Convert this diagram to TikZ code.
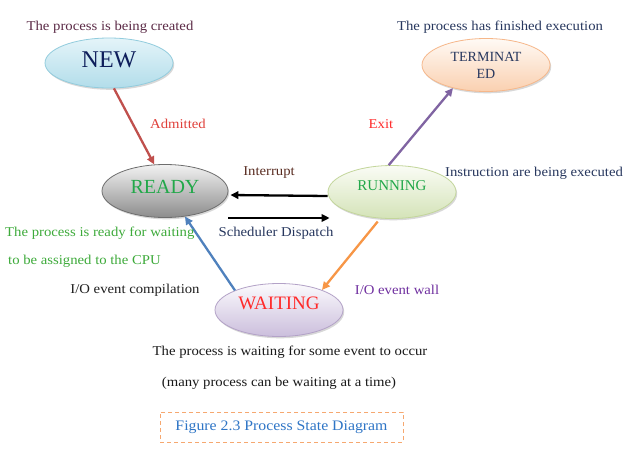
\documentclass[tikz,border=0pt]{standalone}
\usepackage{fontspec}
\setmainfont{Liberation Serif}
\newfontfamily\lblfont[FakeStretch=1.09]{Liberation Serif}
\usetikzlibrary{shapes.geometric,arrows.meta,shadows}
\newcommand\upby[2]{\raisebox{#1}[\height][\depth]{#2}}
\definecolor{newBd}{HTML}{92CCDD}
\definecolor{newTop}{HTML}{E4F4F9}
\definecolor{newBot}{HTML}{B2DDEA}
\definecolor{rdyBd}{HTML}{6E6E6E}
\definecolor{rdyTop}{HTML}{F2F2F2}
\definecolor{rdyBot}{HTML}{8C8C8C}
\definecolor{runBd}{HTML}{C3D69B}
\definecolor{runTop}{HTML}{FAFCF5}
\definecolor{runBot}{HTML}{D4E3B8}
\definecolor{trmBd}{HTML}{F6B78A}
\definecolor{trmTop}{HTML}{FFFAF5}
\definecolor{trmBot}{HTML}{FAD0B0}
\definecolor{wtBd}{HTML}{B3A2C7}
\definecolor{wtTop}{HTML}{FBFAFD}
\definecolor{wtBot}{HTML}{CBBEDC}
\definecolor{arRed}{HTML}{C0504D}
\definecolor{arPur}{HTML}{8064A2}
\definecolor{arOrg}{HTML}{F79646}
\definecolor{arBlu}{HTML}{4F81BD}
\definecolor{txNavy}{HTML}{0E1E5B}
\definecolor{txNavy2}{HTML}{27375E}
\definecolor{txPlum}{HTML}{5B2A46}
\definecolor{txBrown}{HTML}{5A2D22}
\definecolor{txRed}{HTML}{E0403A}
\definecolor{txRed2}{HTML}{FF2A2A}
\definecolor{txGreen}{HTML}{22A84A}
\definecolor{txGreen2}{HTML}{3DAA3A}
\definecolor{txPurple}{HTML}{7030A0}
\definecolor{txBlue}{HTML}{2E75C6}
\definecolor{capBd}{HTML}{F6A870}
\begin{document}
\begin{tikzpicture}[x=1pt,y=-1pt,
  state/.style={ellipse, line width=0.8pt, inner sep=0pt, align=center,
    minimum width=128pt, minimum height=53pt,
    drop shadow={opacity=0.3, shadow xshift=1.2pt, shadow yshift=-1.8pt}},
  lbl/.style={font=\lblfont\fontsize{13.5}{16}\selectfont, inner sep=0pt},
  arr/.style={line width=2.3pt, -{Triangle[length=8pt,width=7.5pt]}},
]
\fill[white] (0,0) rectangle (640,461);
\useasboundingbox (0,0) rectangle (640,461);

% states
\node[state, draw=newBd, top color=newTop, bottom color=newBot, minimum height=50pt,
      text=txNavy, font=\fontsize{24}{26}\selectfont] (new) at (109,63) {\upby{3pt}{NEW}};
\node[state, draw=rdyBd, top color=rdyTop, bottom color=rdyBot, minimum width=126pt,
      text=txGreen, font=\fontsize{20}{22}\selectfont] (ready) at (165,191) {\upby{4pt}{READY}};
\node[state, draw=runBd, top color=runTop, bottom color=runBot,
      text=txGreen, font=\fontsize{15}{17}\selectfont] (running) at (392,192) {\upby{6pt}{RUNNING}};
\node[state, draw=trmBd, top color=trmTop, bottom color=trmBot,
      text=txNavy2, font=\fontsize{14}{17}\selectfont] (term) at (486,65) {TERMINAT\\ED};
\node[state, draw=wtBd, top color=wtTop, bottom color=wtBot,
      text=txRed2, font=\fontsize{19}{21}\selectfont] (waiting) at (279,310) {\upby{7pt}{WAITING}};

% connectors
\draw[arr, arRed] (new.-79) -- (ready.112);
\draw[arr, arPur] (running.97) -- (term.-145);
\draw[arr, arOrg, shorten <=4pt] (running.-114) -- (waiting.25);
\draw[arr, arBlu] (waiting.156) -- (ready.-52);
\draw[arr, black] ([yshift=-4pt]running.west) -- ([xshift=2pt,yshift=-4pt]ready.east);
\draw[arr, black] ([yshift=-27pt]ready.east) -- ([xshift=2pt,yshift=-26pt]running.west);

% labels
\node[lbl, text=txPlum] (tnew) at (110,27) {The process is being created};
\node[lbl, text=txNavy2] (tterm) at (500,27) {The process has finished execution};
\node[lbl, text=txRed] (tadm) at (178,124) {Admitted};
\node[lbl, text=txRed2] (texit) at (381,124) {Exit};
\node[lbl, text=txBrown] (tint) at (269,173) {Interrupt};
\node[lbl, text=txNavy2] (trun) at (534,173) {Instruction are being executed};
\node[lbl, text=txNavy2] (tsch) at (276,233) {Scheduler Dispatch};
\node[lbl, text=txGreen2, anchor=west] (trdy1) at (5,233) {The process is ready for waiting};
\node[lbl, text=txGreen2, anchor=west] (trdy2) at (8,261) {to be assigned to the CPU};
\node[lbl, text=black!88] (tioc) at (135,290) {I/O event compilation};
\node[lbl, text=txPurple] (tiow) at (397,290) {I/O event wall};
\node[lbl, text=black!90] (twt1) at (290,352) {The process is waiting for some event to occur};
\node[lbl, text=black!90] (twt2) at (279,383) {(many process can be waiting at a time)};

% caption
\node[draw=capBd, dash pattern=on 4pt off 3pt, line width=1pt,
      minimum width=243pt, minimum height=30pt, inner sep=0pt,
      text=txBlue, font=\lblfont\fontsize{14.5}{17}\selectfont] (cap) at (281.5,427)
      {Figure 2.3 Process State Diagram};
\end{tikzpicture}
\end{document}
